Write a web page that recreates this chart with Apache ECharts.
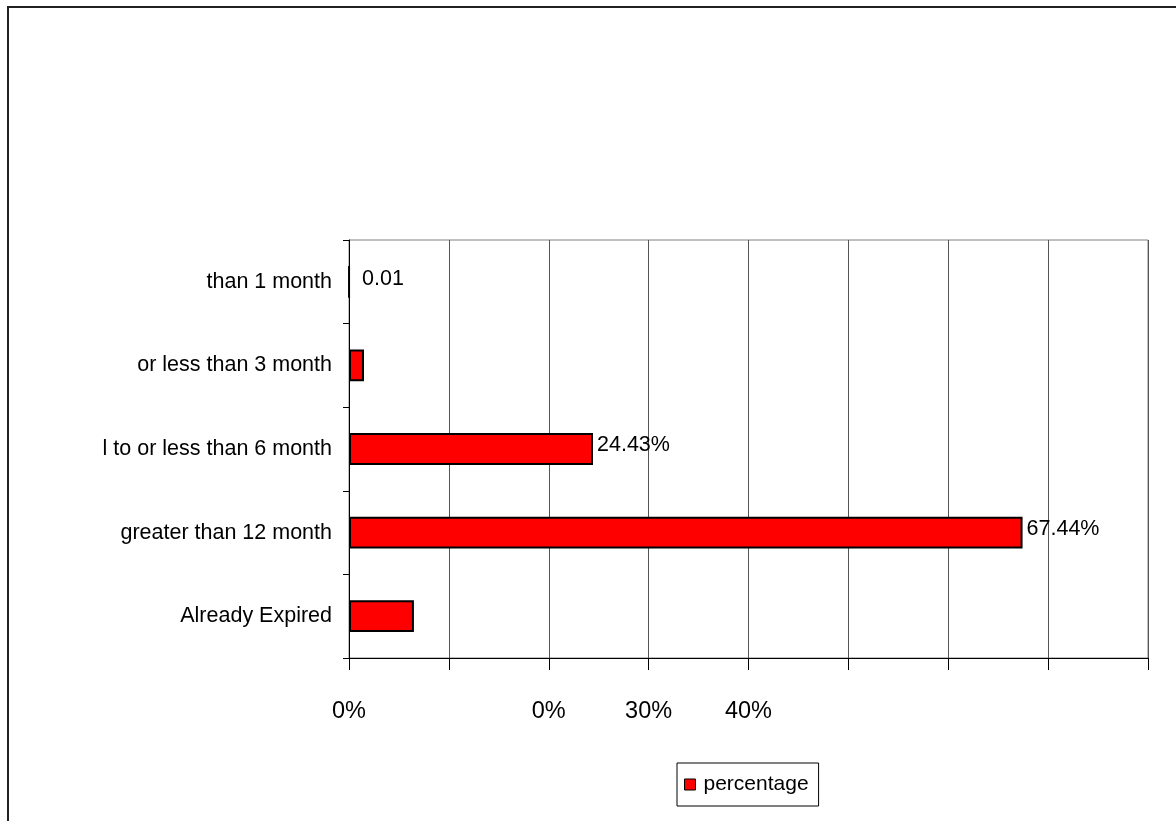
<!DOCTYPE html>
<html>
<head>
<meta charset="utf-8">
<script src="https://cdn.jsdelivr.net/npm/echarts@6/dist/echarts.min.js"></script>
<style>
html,body{margin:0;padding:0;background:#fff;}
#chart{width:1176px;height:821px;}
</style>
</head>
<body>
<div id="chart"></div>
<script>
// Data (category order bottom -> top)
const categories = ['Already Expired', 'greater than 12 month', 'l to or less than 6 month', 'or less than 3 month', 'than 1 month'];
const percentage = [6.5, 67.44, 24.43, 1.5, 0.01];
const valueLabels = ['', '67.44%', '24.43%', '', '0.01'];
const xTickLabels = ['0%', '', '0%', '30%', '40%', '', '', '', ''];
const seriesName = 'percentage';

const FONT = "'Liberation Sans', Arial, sans-serif";

const chart = echarts.init(document.getElementById('chart'), null, {renderer: 'canvas'});

const seriesData = percentage.map((v, i) => {
  const item = {value: v};
  if (!valueLabels[i]) {
    item.label = {show: false};
  } else if (i === 4) {
    item.label = {offset: [8, -3]};
  }
  return item;
});

chart.setOption({
  animation: false,
  backgroundColor: '#ffffff',
  textStyle: {fontFamily: FONT},
  graphic: [{
    type: 'rect',
    shape: {x: 8, y: 7, width: 1200, height: 900},
    style: {fill: 'none', stroke: '#222', lineWidth: 2},
    silent: true,
    z: 100
  }],
  grid: {
    left: 349, top: 240, right: 28, bottom: 163,
    show: true, borderColor: '#808080', borderWidth: 1,
    containLabel: false
  },
  legend: {
    left: 677, top: 763,
    padding: [11, 10, 11, 7],
    borderColor: '#000', borderWidth: 1,
    itemWidth: 11, itemHeight: 11, itemGap: 6,
    icon: 'rect',
    textStyle: {fontFamily: FONT, fontSize: 21, color: '#000', padding: [0, 0, 0, 3]},
    data: [{name: seriesName, itemStyle: {color: '#ff0000', borderColor: '#000', borderWidth: 1}}]
  },
  xAxis: {
    type: 'value',
    min: 0, max: 80, interval: 10,
    axisLine: {show: true, lineStyle: {color: '#000', width: 1}},
    axisTick: {show: true, length: 12, lineStyle: {color: '#000'}},
    splitLine: {show: true, lineStyle: {color: '#555', width: 1}},
    axisLabel: {
      margin: 42,
      fontFamily: FONT, fontSize: 23.5, color: '#000',
      formatter: v => xTickLabels[Math.round(v / 10)] || ''
    }
  },
  yAxis: {
    type: 'category',
    data: categories,
    axisLine: {show: true, lineStyle: {color: '#000', width: 1}},
    axisTick: {show: true, length: 6, lineStyle: {color: '#000'}},
    axisLabel: {margin: 17, fontFamily: FONT, fontSize: 21.5, color: '#000'}
  },
  series: [{
    name: seriesName,
    type: 'bar',
    barWidth: '38%',
    data: seriesData,
    itemStyle: {color: '#ff0000', borderColor: '#000', borderWidth: 2},
    label: {
      show: true, position: 'right', distance: 4, offset: [0, -4],
      fontFamily: FONT, fontSize: 21.5, color: '#000',
      formatter: p => valueLabels[p.dataIndex]
    }
  }]
});
</script>
</body>
</html>
